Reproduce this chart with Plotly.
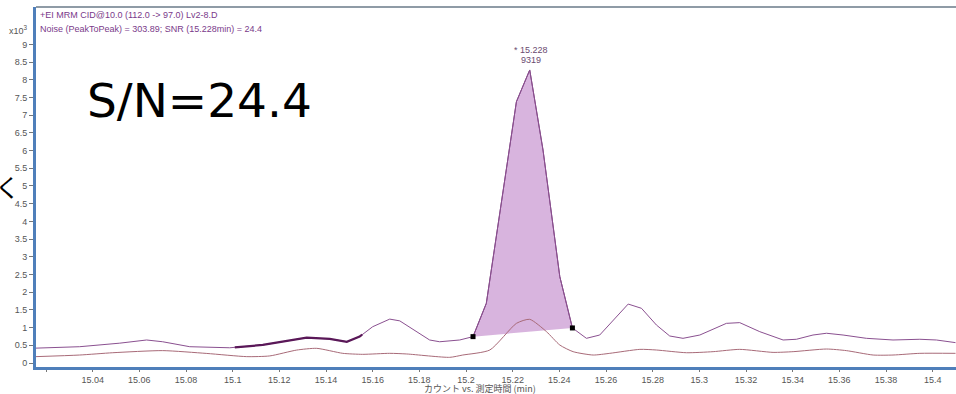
import numpy as np
import plotly.graph_objects as go

# ---- data (counts) ----
upper_t = [15.0157, 15.0344, 15.0516, 15.0631, 15.0700, 15.0816, 15.0987, 15.1129, 15.1317,
           15.1416, 15.1489, 15.1544, 15.1600, 15.1673, 15.1716, 15.1844, 15.1887, 15.1973,
           15.2030, 15.2087, 15.2216, 15.2273, 15.2330, 15.2402, 15.2456, 15.2516, 15.2573,
           15.2695, 15.2752, 15.2816, 15.2873, 15.2930, 15.3002, 15.3116, 15.3173, 15.3259,
           15.3359, 15.3416, 15.3487, 15.3545, 15.3616, 15.3716, 15.3830, 15.3945, 15.4016,
           15.4098]
upper_v = [420, 460, 560, 650, 600, 460, 430, 510, 715,
           680, 600, 745, 1025, 1240, 1190, 650, 600, 650,
           745, 1685, 7380, 8277, 6017, 2440, 990, 697, 790,
           1665, 1545, 1073, 763, 697, 790, 1120, 1140, 885,
           650, 670, 790, 840, 790, 697, 650, 670, 650,
           575]

lower_t = [15.0157, 15.0344, 15.0486, 15.0700, 15.0889, 15.1060, 15.1159, 15.1274, 15.1360,
           15.1472, 15.1557, 15.1673, 15.1746, 15.1930, 15.1986, 15.2102, 15.2216, 15.2273,
           15.2345, 15.2402, 15.2459, 15.2545, 15.2616, 15.2745, 15.2816, 15.2945, 15.3059,
           15.3173, 15.3316, 15.3402, 15.3545, 15.3630, 15.3745, 15.3830, 15.3945, 15.4098]
lower_v = [180, 225, 290, 350, 270, 180, 200, 365, 414,
           273, 245, 273, 255, 160, 225, 367, 1120, 1234,
           885, 508, 320, 225, 273, 385, 367, 290, 320,
           385, 300, 320, 395, 350, 225, 225, 273, 273]

peak_start = 15.2030
peak_end = 15.2456
noise_start = 15.1009
noise_end = 15.1555
peak_rt_label = "* 15.228"
peak_height_label = "9319"

x_tickvals = [15.02, 15.04, 15.06, 15.08, 15.1, 15.12, 15.14, 15.16, 15.18, 15.2,
              15.22, 15.24, 15.26, 15.28, 15.3, 15.32, 15.34, 15.36, 15.38, 15.4]
x_ticktext = [" ", "15.04", "15.06", "15.08", "15.1", "15.12", "15.14", "15.16", "15.18", "15.2",
              "15.22", "15.24", "15.26", "15.28", "15.3", "15.32", "15.34", "15.36", "15.38", "15.4"]
y_tickvals = [0, 500, 1000, 1500, 2000, 2500, 3000, 3500, 4000, 4500, 5000, 5500, 6000,
              6500, 7000, 7500, 8000, 8500, 9000]
y_ticktext = ["0", "0.5", "1", "1.5", "2", "2.5", "3", "3.5", "4", "4.5", "5", "5.5", "6",
              "6.5", "7", "7.5", "8", "8.5", "9"]

header1 = "+EI MRM CID@10.0 (112.0 -> 97.0) Lv2-8.D"
header2 = "Noise (PeakToPeak) = 303.89; SNR (15.228min) = 24.4"
x_title = "カウント vs. 測定時間 (min)"
sn_text = "S/N=24.4"

# ---- derived ----
ut = np.array(upper_t)
uv = np.array(upper_v)
mask = (ut >= peak_start) & (ut <= peak_end)
poly_t = list(ut[mask])
poly_v = list(uv[mask])

nmask = (ut > noise_start) & (ut < noise_end)
noise_t = [noise_start] + list(ut[nmask]) + [noise_end]
noise_v = [float(np.interp(noise_start, ut, uv))] + list(uv[nmask]) + [float(np.interp(noise_end, ut, uv))]

fig = go.Figure()
fig.add_trace(go.Scatter(x=poly_t, y=poly_v, fill="toself", mode="lines",
                         fillcolor="rgba(214,176,220,0.95)",
                         line=dict(color="#7a3a7a", width=1), hoverinfo="skip"))
fig.add_trace(go.Scatter(x=lower_t, y=lower_v, mode="lines",
                         line=dict(color="#a86a78", width=1, shape="spline", smoothing=0.6)))
fig.add_trace(go.Scatter(x=upper_t, y=upper_v, mode="lines",
                         line=dict(color="#8a5090", width=1)))
fig.add_trace(go.Scatter(x=noise_t, y=noise_v, mode="lines",
                         line=dict(color="#5a1858", width=2.2)))
fig.add_trace(go.Scatter(x=[peak_start, peak_end],
                         y=[float(np.interp(peak_start, ut, uv)), float(np.interp(peak_end, ut, uv))],
                         mode="markers", marker=dict(symbol="square", size=5, color="black")))

tick_font = dict(family="Liberation Sans, Arial, sans-serif", size=9, color="#555555")
axis_blue = "#4f7fba"

fig.update_layout(
    width=956, height=394,
    margin=dict(l=36, r=0, t=7, b=27),
    paper_bgcolor="white", plot_bgcolor="white",
    showlegend=False,
    xaxis=dict(range=[15.0157, 15.4100], showgrid=False, zeroline=False,
               showline=True, linecolor=axis_blue, linewidth=3,
               ticks="outside", ticklen=2, tickcolor="#777777",
               tickvals=x_tickvals, ticktext=x_ticktext, tickfont=tick_font),
    yaxis=dict(range=[-113, 10056], showgrid=False, zeroline=False,
               showline=True, linecolor=axis_blue, linewidth=3,
               ticks="outside", ticklen=4, tickcolor="#777777",
               tickvals=y_tickvals, ticktext=y_ticktext, tickfont=tick_font),
)

fig.add_shape(type="line", xref="paper", yref="paper", x0=0, x1=1, y0=1, y1=1,
              line=dict(color="#6a7a88", width=1.5))

fig.add_annotation(xref="paper", yref="paper", x=0.002, y=0.978, xanchor="left", yanchor="middle",
                   text=header1, showarrow=False,
                   font=dict(family="Liberation Sans, Arial", size=9, color="#7a3a8a"))
fig.add_annotation(xref="paper", yref="paper", x=0.002, y=0.940, xanchor="left", yanchor="middle",
                   text=header2, showarrow=False,
                   font=dict(family="Liberation Sans, Arial", size=9, color="#7a3a8a"))
fig.add_annotation(xref="paper", yref="paper", x=-0.031, y=0.935, xanchor="left", yanchor="middle",
                   text="x10<sup>3</sup>", showarrow=False,
                   font=dict(family="Liberation Sans, Arial", size=9, color="#555555"))
fig.add_annotation(xref="paper", yref="paper", x=0.4826, y=-0.061, xanchor="center", yanchor="middle",
                   text=x_title, showarrow=False, borderpad=0,
                   font=dict(family="Noto Sans CJK JP, sans-serif", size=9, color="#555555"))
fig.add_annotation(xref="paper", yref="paper", x=0.178, y=0.739, xanchor="center", yanchor="middle",
                   text=sn_text, showarrow=False,
                   font=dict(family="DejaVu Sans, Verdana, sans-serif", size=47, color="black"))
fig.add_annotation(xref="paper", yref="paper", x=-0.047, y=0.503, xanchor="left", yanchor="middle",
                   text="く", showarrow=False,
                   font=dict(family="Noto Sans CJK JP, sans-serif", size=25, color="black"))
fig.add_annotation(x=15.228, y=8277, yanchor="bottom", yshift=13, text=peak_rt_label, showarrow=False,
                   font=dict(family="Liberation Sans, Arial", size=9, color="#6a4a70"))
fig.add_annotation(x=15.228, y=8277, yanchor="bottom", yshift=3, text=peak_height_label, showarrow=False,
                   font=dict(family="Liberation Sans, Arial", size=9, color="#6a4a70"))

fig.write_html("out.html", config={"displayModeBar": False},
               post_script="document.body.style.margin='0';document.body.style.overflow='hidden';")
